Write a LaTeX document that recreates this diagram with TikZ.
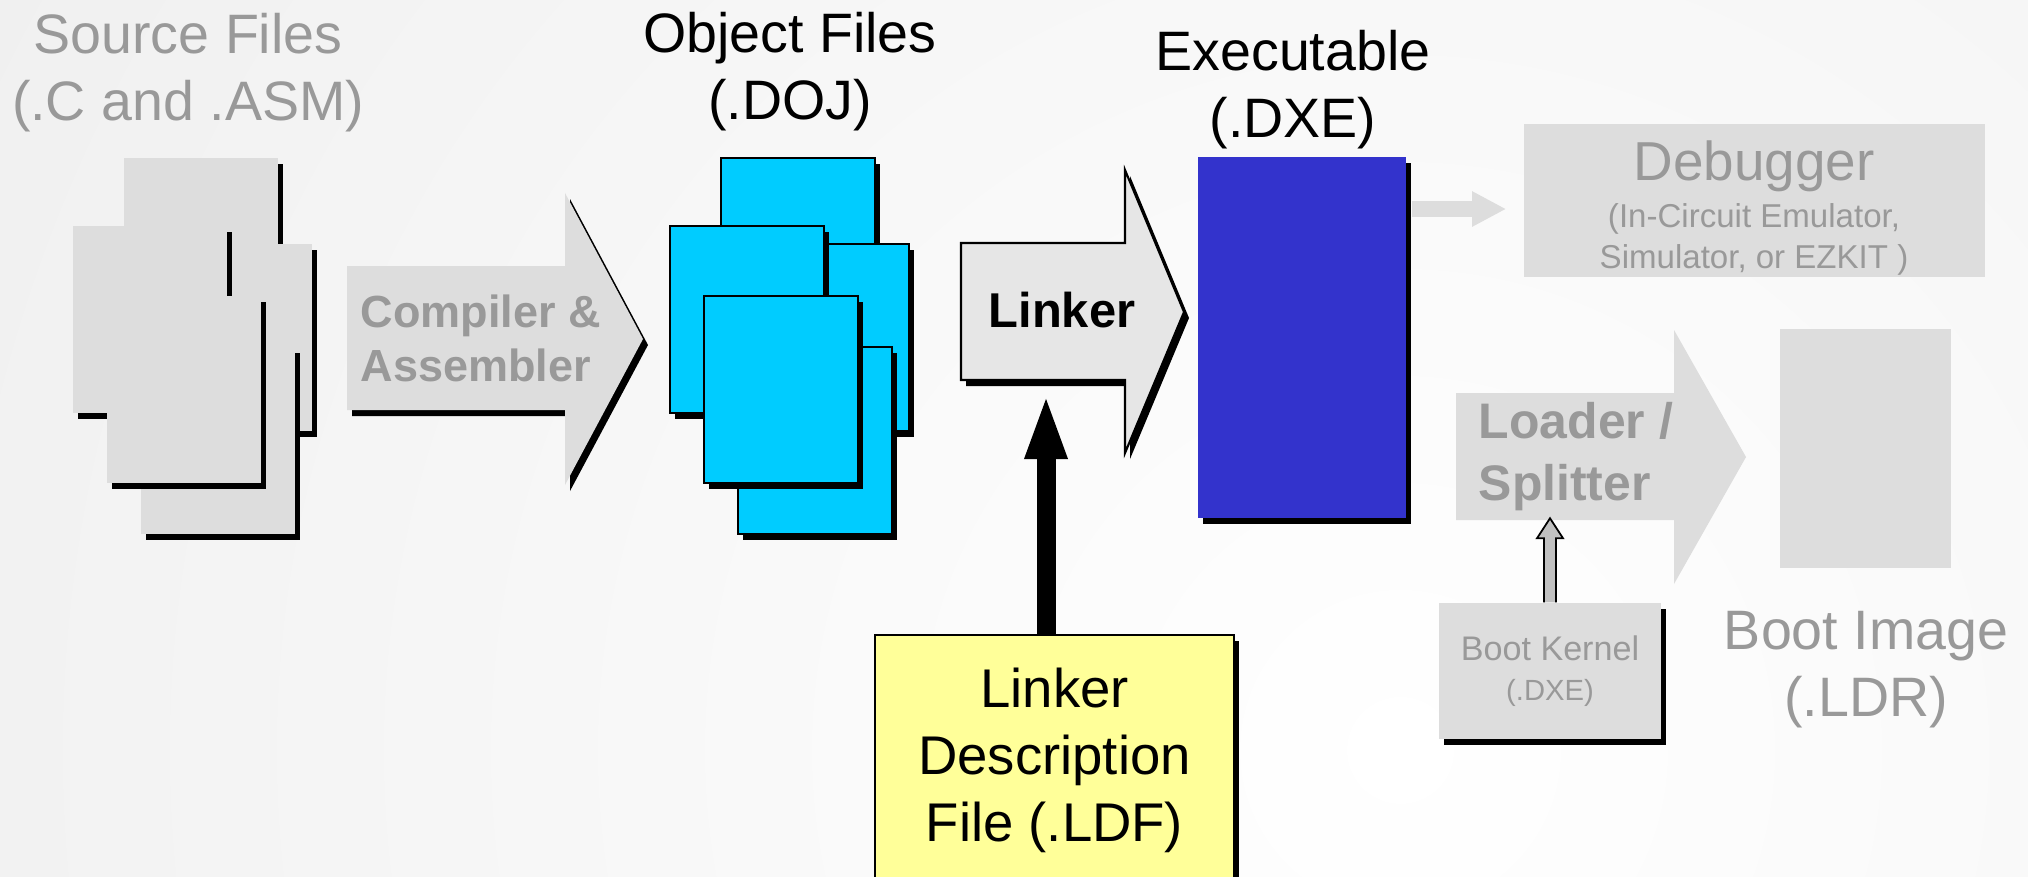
\documentclass[tikz,border=0pt]{standalone}
\usepackage{fontspec}
\setmainfont{Liberation Sans}
\usetikzlibrary{shadows,arrows.meta}
\definecolor{pagegray}{HTML}{DDDDDD}
\definecolor{labelgray}{HTML}{999999}
\definecolor{objcyan}{HTML}{00CCFF}
\definecolor{exeblue}{HTML}{3333CC}
\definecolor{ldfyellow}{HTML}{FFFF99}
\definecolor{linkgray}{HTML}{E6E6E6}
\definecolor{kerngray}{HTML}{C0C0C0}

\begin{document}
\begin{tikzpicture}[x=0.01cm,y=-0.01cm,
  shadowed/.style={drop shadow={shadow xshift=0.05cm,shadow yshift=-0.06cm,fill=black,opacity=1}},
  srcpage/.style={rectangle,fill=pagegray,inner sep=0,minimum width=1.54cm,minimum height=1.87cm,shadowed},
  objpage/.style={srcpage,fill=objcyan,draw=black,line width=0.6pt},
  filetitle/.style={align=center,inner sep=0,font=\fontsize{15.8}{19}\selectfont},
  boldgray/.style={align=left,inner sep=0,text=labelgray,font=\bfseries\fontsize{12.8}{15.6}\selectfont},
  graybox/.style={rectangle,fill=pagegray,inner sep=0}]
%background
\begin{scope}
\clip (0,0) rectangle (2028,876);
\shade[inner color=white,outer color=black!11] (1400,750) circle (30cm);
\end{scope}
\useasboundingbox (0,0) rectangle (2028,876);

\path (201,251.5) node(srcA)[srcpage]{}
(235,337.5) node(srcC)[srcpage]{}
(150,319.5) node(srcB)[srcpage]{}
(218,440.5) node(srcE)[srcpage]{}
(184,389.5) node(srcD)[srcpage]{}
(188,72.4) node(srctitle)[filetitle,text=labelgray]{Source Files\\(.C and .ASM)};

\path[fill=pagegray,shadowed] (347,266) -- (565,266) -- (565,193) -- (643,339) -- (565,485) -- (565,410) -- (347,410) -- cycle;
\path (360,338.4) node(comp)[boldgray,anchor=west]{Compiler \&\\Assembler};

\path (798,251.5) node(objA)[objpage]{}
(832,337.5) node(objC)[objpage]{}
(747,319.5) node(objB)[objpage]{}
(815,440.5) node(objE)[objpage]{}
(781,389.5) node(objD)[objpage]{}
(790,72) node(objtitle)[filetitle]{Object Files\\(.DOJ)};

\path[fill=linkgray,draw=black,line width=0.6pt,shadowed] (961,243) -- (1125,243) -- (1125,170) -- (1184,312) -- (1125,453) -- (1125,380) -- (961,380) -- cycle;
\path (1062,310.5) node(linker)[inner sep=0,font=\bfseries\fontsize{13.9}{16}\selectfont]{Linker}
(1054.5,760.5) node(ldf)[rectangle,fill=ldfyellow,draw=black,line width=0.6pt,minimum width=3.59cm,minimum height=2.51cm,shadowed,align=center,font=\fontsize{15.5}{19}\selectfont]{Linker\\Description\\File (.LDF)}
(1293,89.6) node(exetitle)[filetitle]{Executable\\(.DXE)}
(1754.5,200.5) node(dbg)[graybox,minimum width=4.61cm,minimum height=1.53cm]{}
(1754,207.8) node(dbgtxt)[align=center,inner sep=0,text=labelgray,font=\fontsize{9.4}{11.7}\selectfont]{{\fontsize{15.6}{19}\selectfont Debugger}\\[1.7pt](In-Circuit Emulator,\\Simulator, or EZKIT )};

\coordinate (lnkin) at (1046,393);
\coordinate (dbgin) at ([yshift=-0.085cm]dbg.west);
\draw[line width=5.4pt,-{Triangle[length=18.8pt,width=10.8pt]}] (ldf.north -| lnkin) -- (lnkin);

\path (1302,337.5) node(exe)[rectangle,fill=exeblue,inner sep=0,minimum width=2.08cm,minimum height=3.61cm,shadowed]{};
\draw[pagegray,line width=4.6pt,-{Triangle[length=9.7pt,width=9.4pt]},shorten <=0.05cm,shorten >=0.17cm] (exe.east |- dbgin) -- (dbgin);

\path[fill=pagegray] (1456,393) -- (1674,393) -- (1674,330) -- (1746,457) -- (1674,584) -- (1674,520) -- (1456,520) -- cycle;
\path (1478,457) node(loader)[boldgray,anchor=west,font=\bfseries\fontsize{14.2}{17.6}\selectfont]{Loader /\\Splitter}
(1865.5,448.5) node(bimg)[graybox,minimum width=1.71cm,minimum height=2.39cm]{}
(1866,669.5) node(bimgtitle)[filetitle,text=labelgray]{Boot Image\\(.LDR)}
(1550,671) node(bk)[graybox,minimum width=2.22cm,minimum height=1.36cm,shadowed,align=center,text=labelgray,font=\fontsize{9.7}{11.4}\selectfont]{Boot Kernel\\{\fontsize{8.3}{10}\selectfont(.DXE)}};
\draw[fill=kerngray,line width=0.5pt] ([xshift=-0.06cm]bk.north) -- ++(0,-64) -- ++(-7,0) -- ++(13,-20) -- ++(13,20) -- ++(-7,0) -- ([xshift=0.06cm]bk.north);
\end{tikzpicture}
\end{document}
